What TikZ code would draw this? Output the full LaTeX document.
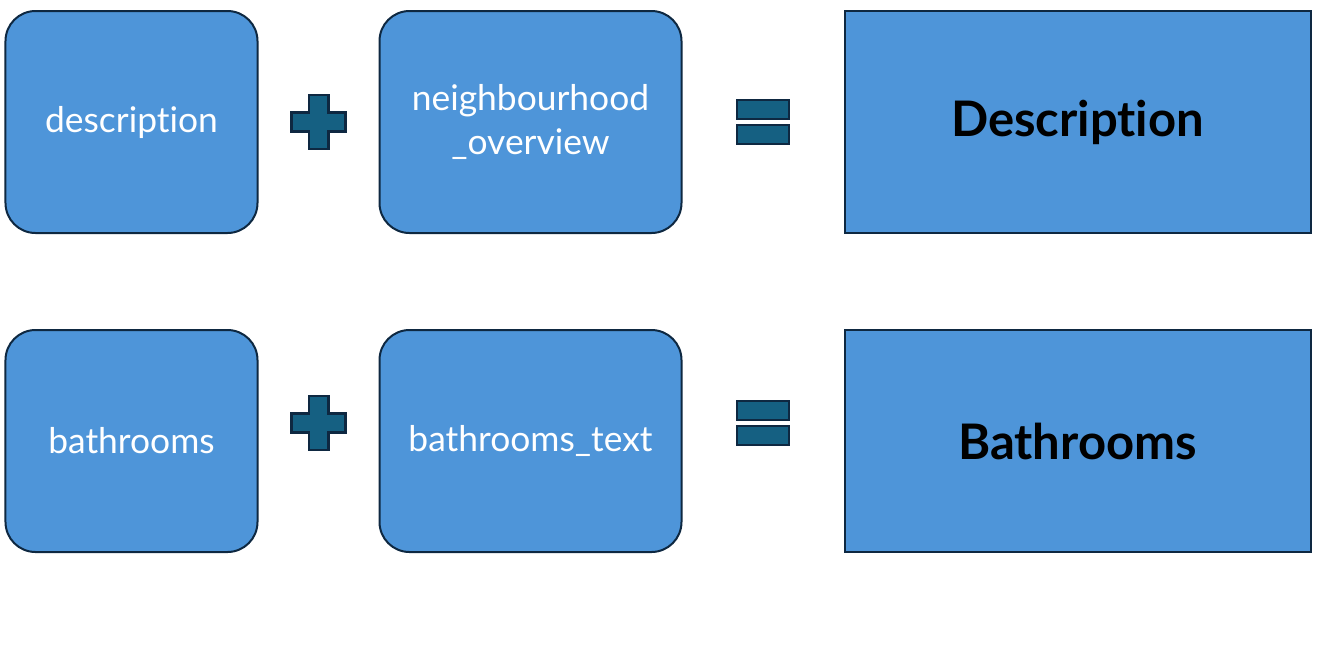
\documentclass[tikz,border=0pt]{standalone}
\usepackage{fontspec}
\setmainfont{Lato}[Ligatures=NoCommon]
\usetikzlibrary{positioning, calc}
\definecolor{boxblue}{HTML}{4E95D9}
\definecolor{boxline}{HTML}{0E2841}
\definecolor{symfill}{HTML}{156082}

\begin{document}
\begin{tikzpicture}[x=1pt, y=1pt, node distance=60pt]
    \tikzstyle{field}=[draw=boxline, line width=1pt, fill=boxblue, rounded corners=15pt, minimum height=111pt, text=white, font=\fontsize{17.7}{22}\selectfont, align=center]
    \tikzstyle{result}=[draw=boxline, line width=1pt, fill=boxblue, minimum width=233pt, minimum height=111pt, font=\fontsize{24.5}{28}\selectfont\bfseries]
    \tikzstyle{sym}=[draw=boxline, line width=1.4pt, fill=symfill]

    \useasboundingbox (-65.75,61) rectangle (595.75,-264);

    % first row
    \node[field, minimum width=126pt] (desc) at (0,0) {description};
    \node[field, minimum width=151pt, right=of desc] (nbh) {neighbourhood\\\_overview};
    \node[result, right=80.5pt of nbh] (Desc) {Description};

    % second row
    \node[field, minimum width=126pt, below=47.5pt of desc] (bath) {bathrooms};
    \node[field, minimum width=151pt, right=of bath] (btext) {bathrooms\_text};
    \node[result, right=80.5pt of btext] (Bath) {Bathrooms};

    \coordinate (plusA) at ($(desc.east)!0.5!(nbh.west)$);
    \coordinate (eqA) at ($(nbh.east)!0.5!(Desc.west)$);
    \coordinate (plusB) at ($(bath.east)!0.5!(btext.west)+(0,9)$);
    \coordinate (eqB) at ($(btext.east)!0.5!(Bath.west)+(0,9)$);

    \foreach \p in {plusA, plusB}
        \draw[sym, shift={(\p)}] (-4.8,13.5) -- (4.8,13.5) -- (4.8,4.8) -- (13.5,4.8) -- (13.5,-4.8) -- (4.8,-4.8) -- (4.8,-13.5) -- (-4.8,-13.5) -- (-4.8,-4.8) -- (-13.5,-4.8) -- (-13.5,4.8) -- (-4.8,4.8) -- cycle;
    \foreach \e in {eqA, eqB} {
        \draw[sym, shift={(\e)}] (-13,1.5) rectangle (13,11);
        \draw[sym, shift={(\e)}] (-13,-1.5) rectangle (13,-11);
    }
\end{tikzpicture}
\end{document}
